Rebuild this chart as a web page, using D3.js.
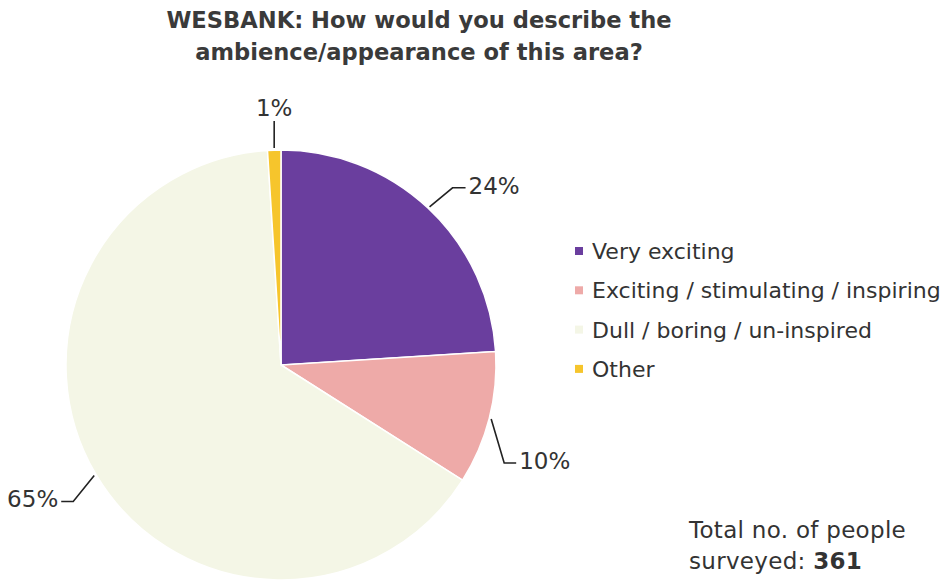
<!DOCTYPE html>
<html>
<head>
<meta charset="utf-8">
<script src="https://cdn.jsdelivr.net/npm/d3@7/dist/d3.min.js"></script>
<style>
  html, body { margin: 0; padding: 0; background: #fff; }
  svg { display: block; }
  text { font-family: "DejaVu Sans", "Noto Sans", sans-serif; fill: #333; }
</style>
</head>
<body>
<svg id="chart" width="947" height="580"></svg>
<script>
// Survey answers, in drawing order (clockwise from 12 o'clock)
const categories = ["Very exciting", "Exciting / stimulating / inspiring", "Dull / boring / un-inspired", "Other"];
const percentages = [24, 10, 65, 1];
const colours = ["#6a3e9e", "#eeaaa8", "#f4f6e6", "#f6c52c"];
const titleLines = ["WESBANK: How would you describe the", "ambience/appearance of this area?"];
const totalSurveyed = 361;

const svg = d3.select("#chart");

// Title
svg.append("g").selectAll("text").data(titleLines).join("text")
  .attr("x", 419).attr("y", (d, i) => 28 + i * 32)
  .attr("text-anchor", "middle")
  .style("font-weight", "bold").style("font-size", "22.6px").style("fill", "#3a3a3a")
  .text(d => d);

// Pie
const cx = 281, cy = 365, R = 215;
const pie = d3.pie().sort(null).value(d => d.value);
const arcs = pie(categories.map((c, i) => ({ name: c, value: percentages[i], colour: colours[i] })));
const arc = d3.arc().innerRadius(0).outerRadius(R);

const g = svg.append("g").attr("transform", `translate(${cx},${cy})`);
g.selectAll("path").data(arcs).join("path")
  .attr("d", arc)
  .attr("fill", d => d.data.colour)
  .attr("stroke", "#fff").attr("stroke-width", 1.5);

// Leader lines: start on the rim at the slice's mid angle, bend, then run horizontally to the label
const leaderLayout = [
  { bend: [23, -19], run: 13, anchor: "start" },   // 24%
  { bend: [13, 44], run: 12, anchor: "start" },    // 10%
  { bend: [-21, 26], run: -12, anchor: "end" },    // 65%
  { bend: [0, -27], run: 0, anchor: "middle" }     // 1%
];

arcs.forEach((d, i) => {
  const mid = (d.startAngle + d.endAngle) / 2;
  const r0 = R + 2;
  const p0 = [Math.sin(mid) * r0, -Math.cos(mid) * r0];
  const L = leaderLayout[i];
  const p1 = [p0[0] + L.bend[0], p0[1] + L.bend[1]];
  const p2 = [p1[0] + L.run, p1[1]];
  g.append("path")
    .attr("d", d3.line()([p0, p1, p2]))
    .attr("fill", "none").attr("stroke", "#222").attr("stroke-width", 1.6);
  const tx = p2[0] + (L.anchor === "start" ? 3 : L.anchor === "end" ? -3 : 0);
  const ty = L.anchor === "middle" ? p2[1] - 5 : p2[1] + 6;
  g.append("text")
    .attr("x", tx).attr("y", ty)
    .attr("text-anchor", L.anchor)
    .style("font-size", "23px").style("fill", "#333")
    .text(d.data.value + "%");
});

// Legend
const legend = svg.append("g").attr("transform", "translate(575,251)");
const rows = legend.selectAll("g").data(arcs).join("g")
  .attr("transform", (d, i) => `translate(0,${i * 39.3})`);
rows.append("rect").attr("x", 0).attr("y", -4).attr("width", 8).attr("height", 8)
  .attr("fill", d => d.data.colour);
rows.append("text").attr("x", 17).attr("y", 0).attr("dy", "0.36em")
  .style("font-size", "22px").style("fill", "#333")
  .text(d => d.data.name);

// Sample size note
const note = svg.append("text").attr("x", 689).attr("y", 538)
  .style("font-size", "23px").style("letter-spacing", "0.3px").style("fill", "#333");
note.append("tspan").attr("x", 689).attr("dy", 0).text("Total no. of people");
note.append("tspan").attr("x", 689).attr("dy", 31).text("surveyed: ");
note.append("tspan").style("font-weight", "bold").text(totalSurveyed);
</script>
</body>
</html>
